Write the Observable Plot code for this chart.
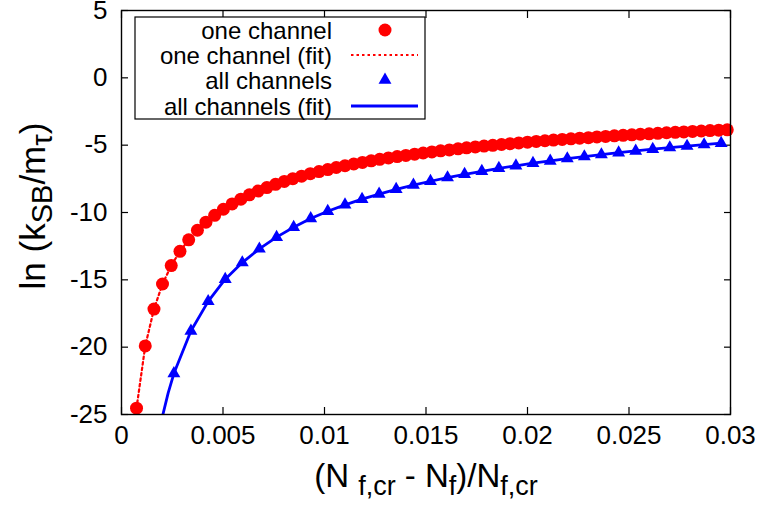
<!DOCTYPE html>
<html>
<head>
<meta charset="utf-8">
<script src="https://cdn.jsdelivr.net/npm/d3@7"></script>
<script src="https://cdn.jsdelivr.net/npm/@observablehq/plot@0.6"></script>
<style>
  html, body { margin: 0; padding: 0; background: #fff; }
  #chart { width: 761px; height: 507px; }
</style>
</head>
<body>
<div id="chart"></div>
<script>
// ---- data ----
const xTicks = [0, 0.005, 0.01, 0.015, 0.02, 0.025, 0.03];
const xTickLabels = ["0", "0.005", "0.01", "0.015", "0.02", "0.025", "0.03"];
const yTicks = [-25, -20, -15, -10, -5, 0, 5];
const yTickLabels = ["-25", "-20", "-15", "-10", "-5", "0", "5"];

const seriesNames = ["one channel", "one channel (fit)", "all channels", "all channels (fit)"];

// one channel (red circles)
const redX = [0.00074, 0.00117, 0.00160, 0.00202, 0.00245, 0.00288, 0.00331, 0.00374, 0.00416, 0.00459,
  0.00502, 0.00545, 0.00588, 0.00630, 0.00673, 0.00716, 0.00759, 0.00802, 0.00844, 0.00887,
  0.00930, 0.00973, 0.01016, 0.01058, 0.01101, 0.01144, 0.01187, 0.01230, 0.01272, 0.01315,
  0.01358, 0.01401, 0.01444, 0.01486, 0.01529, 0.01572, 0.01615, 0.01658, 0.01700, 0.01743,
  0.01786, 0.01829, 0.01872, 0.01914, 0.01957, 0.02000, 0.02043, 0.02086, 0.02128, 0.02171,
  0.02214, 0.02257, 0.02300, 0.02342, 0.02385, 0.02428, 0.02471, 0.02514, 0.02556, 0.02599,
  0.02642, 0.02685, 0.02728, 0.02770, 0.02813, 0.02856, 0.02899, 0.02942, 0.02984];
const redY = [-24.53, -19.91, -17.17, -15.31, -13.94, -12.88, -12.03, -11.32, -10.72, -10.21,
  -9.76, -9.36, -9.01, -8.69, -8.41, -8.15, -7.91, -7.69, -7.49, -7.30,
  -7.12, -6.96, -6.81, -6.66, -6.53, -6.40, -6.28, -6.16, -6.05, -5.95,
  -5.85, -5.76, -5.67, -5.58, -5.50, -5.42, -5.35, -5.27, -5.20, -5.13,
  -5.07, -5.01, -4.95, -4.89, -4.83, -4.78, -4.72, -4.67, -4.62, -4.57,
  -4.53, -4.48, -4.44, -4.39, -4.35, -4.31, -4.27, -4.23, -4.19, -4.16,
  -4.12, -4.08, -4.05, -4.02, -3.98, -3.95, -3.92, -3.89, -3.86];

// all channels (blue triangles)
const blueX = [0.00258, 0.00342, 0.00427, 0.00511, 0.00595, 0.00679, 0.00764, 0.00848, 0.00932, 0.01016,
  0.01101, 0.01185, 0.01269, 0.01353, 0.01438, 0.01522, 0.01606, 0.01690, 0.01775, 0.01859,
  0.01943, 0.02027, 0.02112, 0.02196, 0.02280, 0.02364, 0.02449, 0.02533, 0.02617, 0.02701,
  0.02786, 0.02870, 0.02954];
const blueY = [-21.96, -18.80, -16.60, -14.95, -13.72, -12.70, -11.83, -11.10, -10.45, -9.91,
  -9.43, -9.01, -8.63, -8.28, -7.96, -7.68, -7.41, -7.16, -6.94, -6.72,
  -6.53, -6.34, -6.17, -6.00, -5.85, -5.70, -5.56, -5.43, -5.30, -5.18,
  -5.07, -4.96, -4.85];
// fit curve for all channels starts at the bottom edge before the first triangle
const blueFitX = [0.00204, 0.00230, ...blueX];
const blueFitY = [-25.0, -23.39, ...blueY];

// ---- tables ----
const red = redX.map((x, i) => ({x, y: redY[i]}));
const blue = blueX.map((x, i) => ({x, y: blueY[i]}));
const blueFit = blueFitX.map((x, i) => ({x, y: blueFitY[i]}));

const RED = "#ff0000";
const BLUE = "#0000ff";
const FONT = "'Liberation Sans', Arial, Helvetica, sans-serif";
const TICK_FONT = 26;

const chart = Plot.plot({
  width: 761,
  height: 507,
  marginLeft: 121,
  marginRight: 31,
  marginTop: 10,
  marginBottom: 93,
  style: {fontFamily: FONT, color: "black", background: "white", overflow: "visible"},
  x: {domain: [0, 0.03]},
  y: {domain: [-25, 5]},
  marks: [
    // tick marks pointing inward on all four sides
    Plot.axisX({anchor: "bottom", ticks: xTicks, tickSize: -7, text: null, label: null, strokeWidth: 1.2}),
    Plot.axisX({anchor: "top", ticks: xTicks, tickSize: -7, text: null, label: null, strokeWidth: 1.2}),
    Plot.axisY({anchor: "left", ticks: yTicks, tickSize: -7, text: null, label: null, strokeWidth: 1.2}),
    Plot.axisY({anchor: "right", ticks: yTicks, tickSize: -7, text: null, label: null, strokeWidth: 1.2}),
    // tick labels
    Plot.axisX({anchor: "bottom", ticks: xTicks, tickSize: 0, tickPadding: 11, fontSize: TICK_FONT,
      tickFormat: d => xTickLabels[xTicks.indexOf(d)], label: null}),
    Plot.axisY({anchor: "left", ticks: yTicks, tickSize: 0, tickPadding: 14, fontSize: TICK_FONT,
      tickFormat: d => yTickLabels[yTicks.indexOf(d)], label: null}),
    // data
    Plot.dot(red, {x: "x", y: "y", r: 6.5, fill: RED, stroke: null, symbol: "circle"}),
    Plot.line(red, {x: "x", y: "y", stroke: RED, strokeWidth: 2.2, strokeDasharray: "2.5,3", curve: "linear"}),
    Plot.dot(blue, {x: "x", y: "y", r: 4.8, fill: BLUE, stroke: null, symbol: "triangle"}),
    Plot.line(blueFit, {x: "x", y: "y", stroke: BLUE, strokeWidth: 2.8, clip: true}),
    Plot.frame({stroke: "black", strokeWidth: 1.4})
  ]
});

document.getElementById("chart").appendChild(chart);

// ---- axis titles and legend (text with subscripts) ----
const svg = d3.select(chart);

// y-axis title: ln (k_SB/m_τ)
const yt = svg.append("text")
  .attr("transform", "translate(45,206) rotate(-90)")
  .attr("text-anchor", "middle")
  .attr("font-family", FONT)
  .attr("font-size", 35)
  .attr("fill", "black");
yt.append("tspan").text("ln (k");
yt.append("tspan").attr("font-size", 29).attr("dy", 7).text("SB");
yt.append("tspan").attr("dy", -7).text("/m");
yt.append("tspan").attr("font-size", 29).attr("dy", 7).text("τ");
yt.append("tspan").attr("dy", -7).text(")");

// x-axis title: (N f,cr - Nf)/Nf,cr
const xt = svg.append("text")
  .attr("x", 426)
  .attr("y", 487)
  .attr("text-anchor", "middle")
  .attr("font-family", FONT)
  .attr("font-size", 33)
  .attr("fill", "black");
xt.append("tspan").text("(N ");
xt.append("tspan").attr("font-size", 27).attr("dy", 8).text("f,cr");
xt.append("tspan").attr("dy", -8).text(" - N");
xt.append("tspan").attr("font-size", 27).attr("dy", 8).text("f");
xt.append("tspan").attr("dy", -8).text(")/N");
xt.append("tspan").attr("font-size", 27).attr("dy", 8).text("f,cr");

// legend
const lg = svg.append("g").attr("font-family", FONT).attr("font-size", 24);
lg.append("rect").attr("x", 135).attr("y", 17).attr("width", 290).attr("height", 102)
  .attr("fill", "white").attr("stroke", "black").attr("stroke-width", 1.2);
const rowY = [30, 55, 80, 106];
seriesNames.forEach((name, i) => {
  lg.append("text").attr("x", 332).attr("y", rowY[i]).attr("dy", "0.36em")
    .attr("text-anchor", "end").attr("fill", "black").text(name);
});
lg.append("path").attr("d", d3.symbol(d3.symbolCircle, Math.PI * 6.5 * 6.5)())
  .attr("transform", `translate(385,${rowY[0]})`).attr("fill", RED);
lg.append("line").attr("x1", 351).attr("x2", 418).attr("y1", rowY[1]).attr("y2", rowY[1])
  .attr("stroke", RED).attr("stroke-width", 2.2).attr("stroke-dasharray", "2.5,3");
lg.append("path").attr("d", d3.symbol(d3.symbolTriangle, Math.PI * 4.8 * 4.8)())
  .attr("transform", `translate(385,${rowY[2]})`).attr("fill", BLUE);
lg.append("line").attr("x1", 351).attr("x2", 418).attr("y1", rowY[3]).attr("y2", rowY[3])
  .attr("stroke", BLUE).attr("stroke-width", 2.8);
</script>
</body>
</html>
